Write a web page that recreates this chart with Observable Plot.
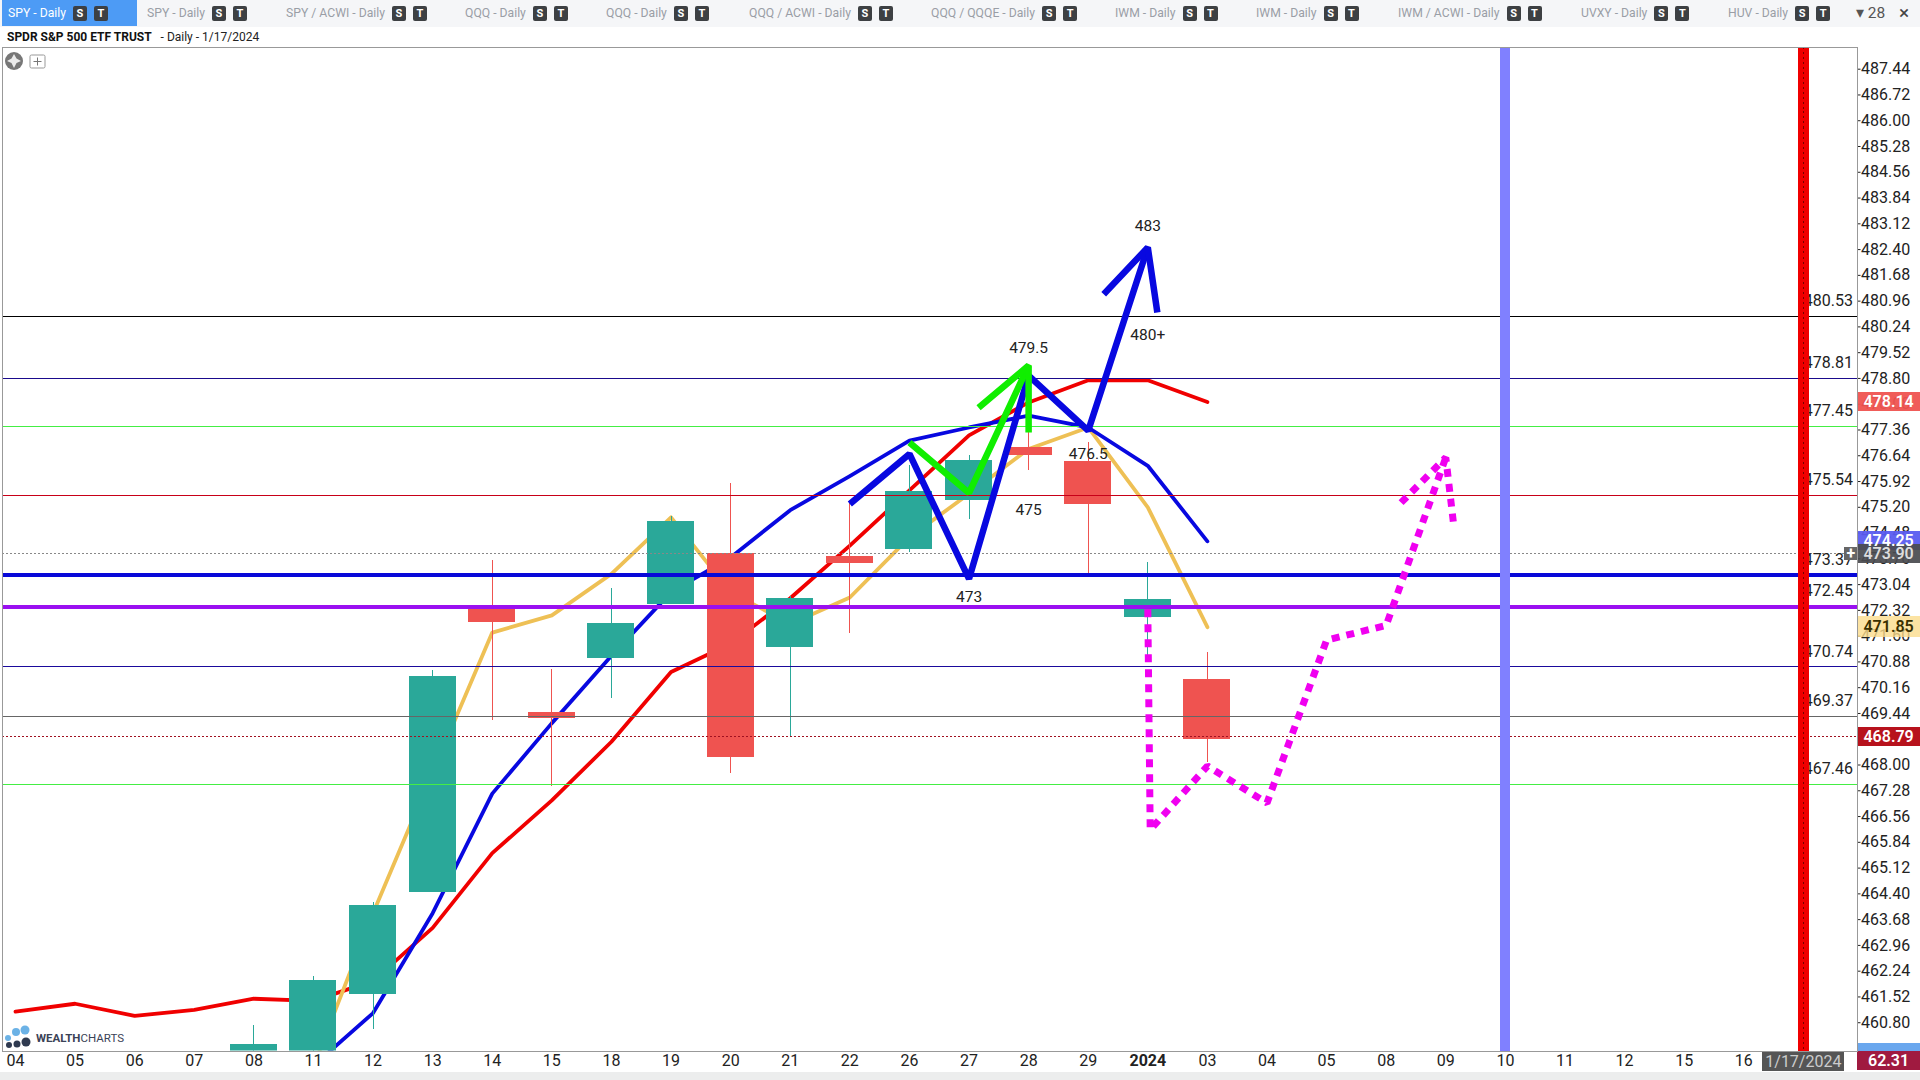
<!DOCTYPE html>
<html><head><meta charset="utf-8">
<script src="https://cdn.jsdelivr.net/npm/d3@7"></script>
<script src="https://cdn.jsdelivr.net/npm/@observablehq/plot@0.6"></script>
<style>
html,body{margin:0;padding:0;background:#fff;width:1920px;height:1080px;overflow:hidden;font-family:Roboto,sans-serif}
#tabs{position:absolute;left:0;top:0;width:1920px;height:27px;background:#f5f6f8}
.tab{position:absolute;top:0;height:26px;line-height:26px;font-size:12.2px;color:#9a9ea6;white-space:nowrap}
.tab.on{color:#fff}
.bd{display:inline-block;width:14px;height:15px;line-height:15px;margin-left:7px;text-align:center;background:#3d4043;color:#fff;font-size:11px;font-weight:700;border-radius:2px;vertical-align:0}
#title{position:absolute;left:7px;top:28px;height:18px;line-height:18px;font-size:12px;color:#222;white-space:pre}
#title b{font-weight:700;color:#111}
#chart{position:absolute;left:0;top:46px}
#foot{position:absolute;left:0;top:1072px;width:1920px;height:8px;background:#eceded}
.ov{position:absolute}
</style></head><body>
<div id="tabs"></div>
<div id="title"><b>SPDR S&amp;P 500 ETF TRUST</b>   - Daily - 1/17/2024</div>
<div id="chart"></div>
<div id="foot"></div>
<svg class="ov" style="left:4px;top:50px" width="44" height="22">
  <circle cx="10" cy="11" r="9" fill="#777"/><path d="M10 4 L12.5 8.5 L17 11 L12.5 13 L10 18 L7.5 13 L3 11 L7.5 8.5Z" fill="#fff" opacity=".85"/>
  <rect x="26" y="5" width="15" height="13" rx="1.5" fill="#fff" stroke="#999"/><path d="M33.5 7.5V15.5M29.5 11.5H37.5" stroke="#777"/>
</svg>
<svg class="ov" style="left:4px;top:1024px" width="30" height="25">
  <circle cx="4" cy="14" r="3" fill="#6bb2e6"/><circle cx="12" cy="8" r="4" fill="#6bb2e6"/><circle cx="21" cy="6" r="4.5" fill="#6bb2e6"/>
  <circle cx="5" cy="21" r="3" fill="#2f3a50"/><circle cx="13" cy="20" r="3.5" fill="#2f3a50"/><circle cx="22" cy="18" r="4.5" fill="#2f3a50"/>
</svg>
<div class="ov" style="left:36px;top:1031px;font-size:11.5px;line-height:14px;color:#3a4256"><b>WEALTH</b>CHARTS</div>
<script>
const tabLabels = ["SPY - Daily","SPY - Daily","SPY / ACWI - Daily","QQQ - Daily","QQQ - Daily","QQQ / ACWI - Daily","QQQ / QQQE - Daily","IWM - Daily","IWM - Daily","IWM / ACWI - Daily","UVXY - Daily","HUV - Daily"];
const tabLefts = [8,147,286,465,606,749,931,1115,1256,1398,1581,1728];

const dayLabels = ["04","05","06","07","08","11","12","13","14","15","18","19","20","21","22","26","27","28","29","2024","03","04","05","08","09","10","11","12","15","16"];
const opens  = [null,null,null,null,459.7,459.7,461.58,464.44,472.42,469.47,470.98,472.49,473.92,471.29,473.82,474.01,475.38,476.86,476.47,472.12,470.40];
const closes = [null,null,null,null,460.18,461.97,464.07,470.47,471.97,469.30,471.94,474.81,468.21,472.66,473.62,475.63,476.50,476.64,475.28,472.62,468.72];
const highs  = [null,null,null,null,460.71,462.10,464.17,470.64,473.72,470.67,472.93,474.95,475.87,472.72,475.33,476.36,476.64,477.30,477.01,473.66,471.15];
const lows   = [null,null,null,null,459.7,459.7,460.60,464.44,469.24,467.39,469.85,472.49,467.76,468.79,471.67,473.93,474.85,476.24,473.27,470.90,468.07];

const redMA    = [461.11,461.33,460.99,461.16,461.47,461.41,461.97,463.45,465.54,467.01,468.65,470.60,471.39,472.66,474.13,475.67,477.21,478.13,478.75,478.75,478.14];
const blueMA   = [null,null,null,null,null,459.60,461.07,463.86,467.20,469.17,471.05,472.83,473.80,475.12,476.07,477.06,477.43,477.76,477.43,476.36,474.25];
const yellowMA = [null,null,null,null,null,459.58,463.86,467.80,471.70,472.18,473.34,474.92,472.83,471.94,472.68,474.36,475.58,476.83,477.43,475.20,471.85];

const levelValues = [480.53,478.79,477.45,475.54,473.30,472.42,470.74,469.35,468.79,467.46,473.90];
const levelColors = ["#000000","#1a0a8c","#44ee44","#c80018","#0808d8","#9a10f0","#1a0a9c","#666666","#a01020","#44ee44","#888888"];
const levelWidths = [1,1,1,1,4,4,1,1,1,1,1];
const levelDotted = [false,false,false,false,false,false,false,false,true,false,true];
const levelLabels = ["480.53","478.81","477.45","475.54","473.37","472.45","470.74","469.37","","467.46",""];

const zigX = [14,15,16,17,18,19], zigY = [475.29,476.69,473.20,478.88,477.34,482.46];
const zigHeadX = [18.26,19,19.16], zigHeadY = [481.15,482.46,480.64];
const greenX = [15,16,17], greenY = [477.01,475.60,479.16];
const greenHeadX = [16.16,17,17], greenHeadY = [477.98,479.16,477.29];
const magX = [19,19.04,20,21,22,23,24], magY = [472.35,466.19,467.97,466.94,471.49,471.90,476.59];
const magHeadX = [23.25,24,24.13], magHeadY = [475.33,476.59,474.74];

const noteTexts = ["483","480+","479.5","476.5","475","473"];
const noteX = [19,19,17,18,17,16];
const noteY = [483.06,480.02,479.64,476.70,475.12,472.69];

const yTicks = [460.80,461.52,462.24,462.96,463.68,464.40,465.12,465.84,466.56,467.28,468.00,468.72,469.44,470.16,470.88,471.60,472.32,473.04,473.76,474.48,475.20,475.92,476.64,477.36,478.08,478.80,479.52,480.24,480.96,481.68,482.40,483.12,483.84,484.56,485.28,486.00,486.72,487.44];

const tagValues  = [478.14,474.25,473.90,471.85,468.79,459.74];
const tagHalf    = [0.27,0.27,0.27,0.30,0.27,0.27];
const tagTexts   = ["478.14","474.25","473.90","471.85","468.79","62.31"];
const tagFills   = ["#ef5350","#5a5cf0","#4a4b50","#fbdc8c","#b7121c","#a01a40"];
const tagOpacity = [0.95,0.95,0.93,0.8,1,1];
const tagColors  = ["#fff","#fff","#ddd","#3a3000","#fff","#fff"];

/* tabs */
const tabsEl = document.getElementById("tabs");
tabLabels.forEach((t,i)=>{
  if(i===0){const b=document.createElement("div");b.style.cssText="position:absolute;left:2px;top:0;width:135px;height:26px;background:#4d9bf5";tabsEl.append(b);}
  const d=document.createElement("div");
  d.className="tab"+(i===0?" on":"");
  d.style.left=tabLefts[i]+"px";
  d.innerHTML=t+'<span class="bd">S</span><span class="bd">T</span>';
  tabsEl.append(d);
});
const more=document.createElement("div");
more.className="tab";more.style.cssText="left:1856px;color:#555;font-size:15.5px";more.textContent="\u25BE 28";tabsEl.append(more);
const cl=document.createElement("div");
cl.className="tab";cl.style.cssText="left:1899px;color:#444;font-size:19px";cl.textContent="\u00D7";tabsEl.append(cl);

const days = dayLabels.map((label,i)=>({i,label}));
const candles = opens.map((o,i)=>({i,o,c:closes[i],h:highs[i],l:lows[i]})).filter(d=>d.o!=null);
const series = (arr)=>arr.map((v,i)=>({x:i,y:v})).filter(d=>d.y!=null);
const pts = (xs,ys)=>xs.map((x,i)=>({x,y:ys[i]}));
const levels = levelValues.map((v,i)=>({v,color:levelColors[i],w:levelWidths[i],dotted:levelDotted[i],label:levelLabels[i]}));
const notes = noteTexts.map((t,i)=>({t,x:noteX[i],y:noteY[i]}));
const tags = tagValues.map((v,i)=>({v,t:tagTexts[i],fill:tagFills[i],color:tagColors[i],h:tagHalf[i],op:tagOpacity[i]}));
const up="#2aa899", down="#ef5350";
const xMax=30.9, halfW=0.394;
const crisp={shapeRendering:"crispEdges"};
const thick=(p,stroke)=>Plot.line(p,{x:"x",y:"y",stroke,strokeWidth:6.5,strokeLinejoin:"miter",strokeLinecap:"butt"});
const dashed=(p)=>Plot.line(p,{x:"x",y:"y",stroke:"#f000f0",strokeWidth:7,strokeDasharray:"8,7",strokeLinecap:"butt",strokeLinejoin:"miter"});

const chart = Plot.plot({
  width:1920,height:1034,marginTop:0.5,marginBottom:29.5,marginLeft:2,marginRight:63.5,
  style:{background:"#fff",fontFamily:"Roboto,sans-serif",fontSize:"16px",overflow:"visible",color:"#222"},
  x:{type:"linear",domain:[-0.218,xMax]},
  y:{type:"linear",domain:[460.01,488.06]},
  marks:[
    Plot.axisX({ticks:days.filter(d=>d.label!=="2024").map(d=>d.i),tickFormat:i=>dayLabels[i],tickSize:0,tickPadding:4,fontSize:16,label:null}),
    Plot.axisX({ticks:[19],tickFormat:i=>dayLabels[i],tickSize:0,tickPadding:4,fontSize:16,fontWeight:"bold",label:null}),
    Plot.axisY({anchor:"right",ticks:yTicks,tickFormat:d=>d.toFixed(2),tickSize:3,tickPadding:1,fontSize:16,label:null}),
    Plot.line(series(redMA),{x:"x",y:"y",stroke:"#f00000",strokeWidth:3.8,clip:true}),
    Plot.line(series(yellowMA),{x:"x",y:"y",stroke:"#eec055",strokeWidth:3.8,clip:true}),
    Plot.line(series(blueMA),{x:"x",y:"y",stroke:"#0808e0",strokeWidth:3.8,clip:true}),
    Plot.ruleX(candles,{x:"i",y1:"l",y2:"h",stroke:d=>d.c>=d.o?up:down,strokeWidth:1,clip:true,...crisp}),
    Plot.rect(candles,{x1:d=>d.i-halfW,x2:d=>d.i+halfW,y1:"o",y2:"c",fill:d=>d.c>=d.o?up:down,clip:true,...crisp}),
    Plot.ruleY(levels.filter(d=>!d.dotted),{y:"v",stroke:d=>d.color,strokeWidth:d=>d.w,...crisp}),
    Plot.ruleY(levels.filter(d=>d.dotted),{y:"v",stroke:d=>d.color,strokeWidth:d=>d.w,strokeDasharray:"2,2",...crisp}),
    Plot.text(levels,{x:xMax,y:"v",text:"label",textAnchor:"end",dx:-4,dy:-15.5,fontSize:16,fill:"#222"}),
    Plot.ruleX([25],{stroke:"#8080ff",strokeWidth:10,...crisp}),
    dashed(pts(magX,magY)),
    dashed(pts(magHeadX,magHeadY)),
    thick(pts(zigX,zigY),"#0808e0"),
    thick(pts(zigHeadX,zigHeadY),"#0808e0"),
    thick(pts(greenX,greenY),"#10ee00"),
    thick(pts(greenHeadX,greenHeadY),"#10ee00"),
    Plot.text(notes,{x:"x",y:"y",text:"t",fontSize:15.5,fill:"#222"}),
    Plot.ruleX([30],{stroke:"#f00000",strokeWidth:10.5,...crisp}),
    Plot.ruleX([30],{stroke:"#7a0000",strokeWidth:1,strokeDasharray:"2,3",...crisp}),
    Plot.rect([473.90],{x1:xMax-0.21,x2:xMax,y1:d=>d-0.19,y2:d=>d+0.19,fill:"#666",...crisp}),
    Plot.text([473.90],{x:xMax-0.105,y:d=>d,text:()=>"+",fill:"#fff",fontSize:16,fontWeight:"bold"}),
    Plot.rect(tags,{x1:xMax,x2:xMax+1.07,y1:d=>d.v-d.h,y2:d=>d.v+d.h,fill:"fill",fillOpacity:"op",clip:false,...crisp}),
    Plot.text(tags,{x:xMax+0.53,y:"v",text:"t",fill:"color",fontSize:16,fontWeight:"600"}),
    Plot.rect([460.01],{x1:xMax,x2:xMax+1.07,y1:d=>d,y2:d=>d+0.22,fill:"#6aa7ee",...crisp}),
    Plot.rect([30],{x1:d=>d-0.69,x2:d=>d+0.69,y1:459.44,y2:460.01,fill:"#555",...crisp}),
    Plot.text(["1/17/2024"],{x:30,y:459.72,text:d=>d,fill:"#ccc",fontSize:16}),
    Plot.frame({stroke:"#999",strokeWidth:1,...crisp})
  ]
});
document.getElementById("chart").append(chart);
</script>
</body></html>
